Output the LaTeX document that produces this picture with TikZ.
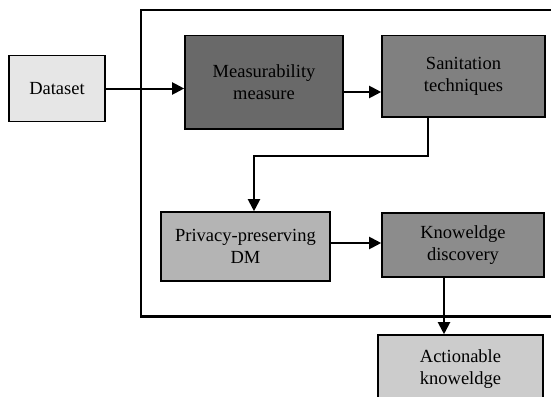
\documentclass[tikz,border=0pt]{standalone}
\usepackage{fontspec}
\setmainfont{Liberation Serif}
\usetikzlibrary{arrows.meta}
\begin{document}
\begin{tikzpicture}[x=1pt,y=-1pt,
  box/.style={draw=black, line width=1.6pt, align=center, inner sep=0pt,
    font=\fontsize{18.5}{22}\selectfont, text=black},
  conn/.style={line width=2pt, -{Triangle[length=12pt,width=12pt]}},
  frame/.style={line width=2.1pt}]
\useasboundingbox (0,0) rectangle (551,396);
\begin{scope}
\clip (0,0) rectangle (551,396);
\draw[frame] (141,10) rectangle (575,316.5);
\node[box, fill={rgb,255:red,230;green,230;blue,230}, minimum width=96pt, minimum height=66pt] (data) at (57,88.5) {Dataset};
\node[box, fill={rgb,255:red,105;green,105;blue,105}, minimum width=158pt, minimum height=93.5pt] (meas) at (264,82.3) {Measurability\\measure};
\node[box, fill={rgb,255:red,128;green,128;blue,128}, minimum width=163pt, minimum height=81.5pt] (sani) at (463.5,76.3) {Sanitation\\techniques};
\node[box, fill={rgb,255:red,180;green,180;blue,180}, minimum width=169pt, minimum height=69pt] (priv) at (245.5,246.5) {Privacy-preserving\\DM};
\node[box, fill={rgb,255:red,140;green,140;blue,140}, minimum width=162pt, minimum height=64pt] (know) at (463,245) {Knoweldge\\discovery};
\node[box, fill={rgb,255:red,204;green,204;blue,204}, minimum width=165pt, minimum height=68pt] (act) at (460.5,369) {Actionable\\knoweldge};
\coordinate (y2) at (0,92);
\coordinate (y3) at (0,243);
\coordinate (x4) at (444,0);
\coordinate (bs) at (428,156);
\coordinate (bp) at (254,156);
\draw[conn] (data.east) -- (meas.west |- data.east);
\draw[conn] (meas.east |- y2) -- (sani.west |- y2);
\draw[conn] (sani.south -| bs) -- (bs) -- (bp) -- (priv.north -| bp);
\draw[conn] (priv.east |- y3) -- (know.west |- y3);
\draw[conn] (know.south -| x4) -- (act.north -| x4);
\end{scope}
\end{tikzpicture}
\end{document}
